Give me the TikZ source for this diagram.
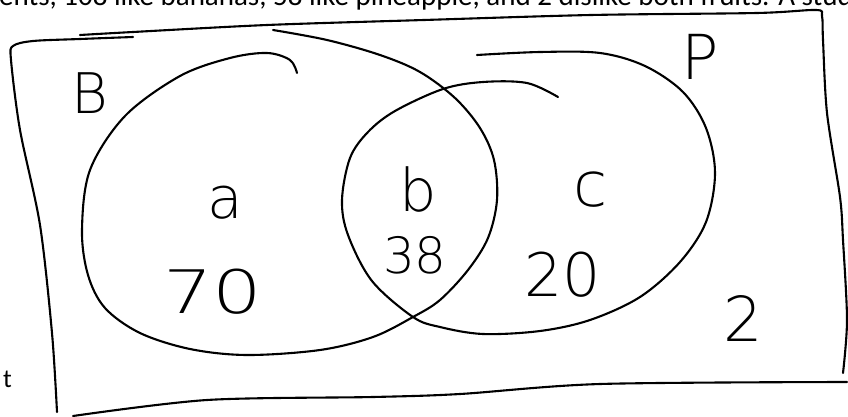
\documentclass[tikz,border=0pt]{standalone}
\usepackage{fontspec}
\newfontfamily\printfont{Carlito}
\IfFontExistsTF{DejaVu Sans ExtraLight}{\newfontfamily\handfont{DejaVu Sans ExtraLight}}{\newfontfamily\handfont{DejaVu Sans}}
\newcommand\hs[1]{\handfont\fontsize{#1}{#1}\selectfont}
\begin{document}
\begin{tikzpicture}[x=1pt,y=-1pt,
  ink/.style={line width=2.1pt,line cap=round,line join=round},
  hand/.style={inner sep=0pt,anchor=center},
  printed/.style={inner sep=0pt,anchor=base west}]
\useasboundingbox (0,0) rectangle (848,417);
\fill[white] (0,0) rectangle (848,417);
\clip (0,0) rectangle (848,417);

% printed text from the page
\node[printed,font=\printfont\fontsize{29}{29}\selectfont] (toptext) at (-1,6)
  {ents, 108 like bananas, 58 like pineapple, and 2 dislike both fruits. A student};
\node[printed,font=\printfont\fontsize{26}{26}\selectfont] (tmark) at (3,387) {t};

% hand-drawn box
\draw[ink] plot[smooth,tension=0.5] coordinates
  {(57,412) (52,333) (40,225) (20,130) (11,60) (13,46) (33,41) (80,39) (133,37)};
\draw[ink] plot[smooth,tension=0.5] coordinates
  {(80,35) (133,32) (267,25) (424,20) (591,15) (757,13) (816,10) (822,16)
   (823,40) (827,113) (840,197) (843,240) (847,320) (843,373)};
\draw[ink] plot[smooth,tension=0.5] coordinates
  {(73,416) (207,400) (373,397) (460,394) (600,384) (847,382)};

% left set B
\draw[ink] plot[smooth,tension=0.55] coordinates
  {(273,30) (327,40) (380,55) (420,72) (455,98) (480,128) (494,160) (497,200)
   (488,238) (468,270) (440,300) (413,317) (373,337) (320,350) (247,355)
   (190,349) (140,333) (105,308) (88,275) (82,230) (90,170) (125,116)
   (180,76) (230,58) (267,53) (290,60) (297,73)};

% right set P
\draw[ink] plot[smooth,tension=0.55] coordinates
  {(477,55) (540,52) (600,53) (645,66) (683,92) (706,128) (715,173) (706,222)
   (680,262) (640,297) (590,320) (540,331) (483,334) (440,327)
   (413,317) (372,281) (348,235) (342,200) (350,158) (368,132) (395,111)
   (443,89) (483,82) (527,83) (558,97)};

% handwritten labels
\node[hand,font=\hs{56}] (lblB) at (90,93) {B};
\node[hand,font=\hs{62}] (lblP) at (700,57) {P};
\node[hand,font=\hs{58}] (lbla) at (225,203) {a};
\node[hand,font=\hs{59}] (lblb) at (418,190) {b};
\node[hand,font=\hs{62}] (lblc) at (591,190) {c};
\node[hand,font=\hs{50}] (n38) at (415,255) {38};
\node[hand,font=\hs{60},xscale=1.3] (n70) at (213,292) {70};
\node[hand,font=\hs{60}] (n20) at (563,275) {20};
\node[hand,font=\hs{62}] (n2) at (743,318) {2};
\end{tikzpicture}
\end{document}
